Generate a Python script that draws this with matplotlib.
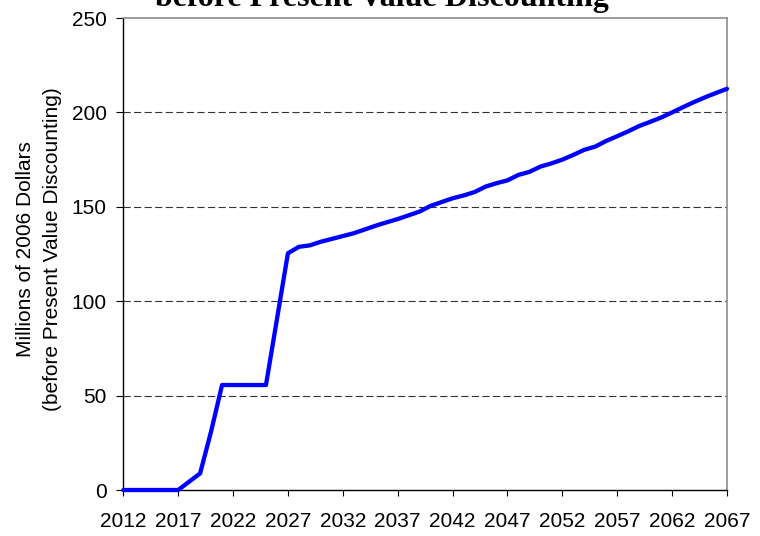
import numpy as np
import matplotlib
matplotlib.use("Agg")
import matplotlib.pyplot as plt
from matplotlib.ticker import MultipleLocator

# ── Daten ─────────────────────────────────────────────────────────────────────
years = list(range(2012, 2068))
values = [
    0, 0, 0, 0, 0, 0,                      # 2012-2017
    4.4, 8.8, 31.0, 55.6,                  # 2018-2021
    55.6, 55.6, 55.6, 55.6,                # 2022-2025
    90.5, 125.4, 128.8, 129.6,             # 2026-2029
    131.5, 133.0, 134.5, 136.0, 138.0,     # 2030-2034
    140.0, 141.8, 143.5, 145.5, 147.5,     # 2035-2039
    150.5, 152.5, 154.5, 156.0, 157.8,     # 2040-2044
    160.7, 162.5, 164.0, 166.9, 168.5,     # 2045-2049
    171.3, 173.0, 175.0, 177.5, 180.2,     # 2050-2054
    181.9, 184.9, 187.4, 190.0, 192.8,     # 2055-2059
    195.0, 197.3, 200.0, 202.8, 205.5,     # 2060-2064
    208.0, 210.3, 212.5,                   # 2065-2067
]
x_ticks = list(range(2012, 2068, 5))
title = "before Present Value Discounting"
ylabel = "Millions of 2006 Dollars\n(before Present Value Discounting)"

plt.rcParams["font.family"] = ["Liberation Sans", "DejaVu Sans"]

fig = plt.figure(figsize=(7.6, 5.36), dpi=100)
ax = fig.add_axes([0.1622, 0.0858, 0.7944, 0.8806])

# gestrichelte Gitterlinien
for y in [50, 100, 150, 200]:
    ax.axhline(y, color="#333333", lw=0.8, ls=(0, (6.5, 3.0)), zorder=1)

ax.plot(years, values, color="#0000FF", lw=3.1, solid_joinstyle="round",
        solid_capstyle="round", zorder=3, clip_on=False)

ax.set_xlim(2012, 2067)
ax.set_ylim(0, 250)
ax.set_xticks(x_ticks)
ax.yaxis.set_major_locator(MultipleLocator(50))

for s in ["top", "right"]:
    ax.spines[s].set_color("#8c8c8c")
    ax.spines[s].set_linewidth(1.2)
for s in ["left", "bottom"]:
    ax.spines[s].set_color("black")
    ax.spines[s].set_linewidth(1.0)

ax.tick_params(axis="y", direction="out", length=5, width=0.8, pad=7,
               labelsize=15)
ax.tick_params(axis="x", direction="out", length=4.5, width=0.8, pad=11,
               labelsize=15)

ax.set_ylabel(ylabel, fontsize=15, linespacing=1.5)
ax.yaxis.set_label_coords(-0.1015, 0.51)

# Titel – erste Zeile liegt oberhalb des Bildes, nur die zweite ist sichtbar
fig.text(0.503, 1 - 6 / 536, title, ha="center", va="baseline",
         fontsize=23, fontweight="bold",
         family=["Liberation Serif", "DejaVu Serif"])

fig.savefig("out.png", dpi=100)
